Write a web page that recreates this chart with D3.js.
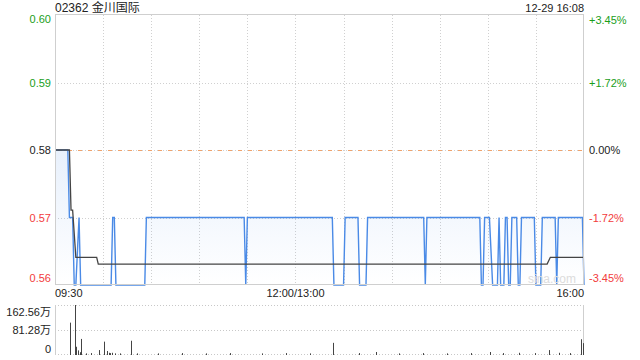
<!DOCTYPE html>
<html>
<head>
<meta charset="utf-8">
<script src="https://cdn.jsdelivr.net/npm/d3@7"></script>
<style>
  body { margin: 0; background: #fff; }
  svg { display: block; font-family: Arial, "Liberation Sans", "Noto Sans CJK SC", sans-serif; }
</style>
</head>
<body>
<script>
// chart data
var title = "02362 金川国际";
var stamp = "12-29 16:08";
var prevClose = 0.58;
var priceTicks = [0.60, 0.59, 0.58, 0.57, 0.56];
var pctLabels = ["+3.45%", "+1.72%", "0.00%", "-1.72%", "-3.45%"];
var gridTimes = ["10:00", "10:30", "11:00", "11:30", "13:00", "13:30", "14:00", "14:30", "15:00", "15:30"];
var timeLabels = ["09:30", "12:00/13:00", "16:00"];
var volTicks = [1625600, 812800, 0];
var volLabels = ["162.56万", "81.28万", "0"];

// price line vertices
var priceTimes = ["09:30", "09:38", "09:39", "09:41", "09:42", "09:43", "09:45", "09:46", "10:05", "10:06",
  "10:07", "10:08", "10:26", "10:27", "11:28", "11:29", "11:30", "13:23", "13:24", "13:30",
  "13:31", "13:39", "13:40", "13:44", "13:45", "14:20", "14:21", "14:22", "14:55", "14:56",
  "14:57", "14:58", "15:01", "15:03", "15:06", "15:07", "15:08", "15:10", "15:11", "15:12",
  "15:13", "15:14", "15:15", "15:18", "15:19", "15:20", "15:21", "15:29", "15:30", "15:33",
  "15:34", "15:42", "15:43", "15:44", "15:59", "16:00"];
var prices = [0.58, 0.58, 0.57, 0.57, 0.56, 0.56, 0.57, 0.56, 0.56, 0.57,
  0.57, 0.56, 0.56, 0.57, 0.57, 0.56, 0.57, 0.57, 0.56, 0.56,
  0.57, 0.57, 0.56, 0.56, 0.57, 0.57, 0.56, 0.57, 0.57, 0.56,
  0.56, 0.57, 0.57, 0.56, 0.56, 0.57, 0.56, 0.56, 0.57, 0.57,
  0.56, 0.56, 0.57, 0.57, 0.56, 0.56, 0.57, 0.57, 0.56, 0.56,
  0.57, 0.57, 0.56, 0.57, 0.57, 0.56];

// average price line vertices
var avgTimes = ["09:30", "09:39", "09:40", "09:41", "09:43", "09:56", "09:57", "15:37", "15:39", "16:00"];
var avgPrices = [0.58, 0.58, 0.5711, 0.5711, 0.5641, 0.5641, 0.5631, 0.5631, 0.5641, 0.5641];

// volume bars
var volTimes = ["09:40", "09:43", "09:44", "09:45", "09:46", "09:47", "09:50", "09:53", "09:58", "10:01",
  "10:03", "10:04", "10:05", "10:06", "10:08", "10:11", "10:18", "10:22", "10:35", "10:50",
  "11:05", "11:20", "11:40", "11:55", "13:10", "13:24", "13:40", "13:51", "14:05", "14:20",
  "14:35", "14:50", "15:02", "15:10", "15:20", "15:30", "15:39", "15:45", "15:52", "15:59", "16:00"];
var volumes = [1040000, 1625600, 240000, 120000, 60000, 500000, 20000, 30000, 130000, 410000,
  100000, 40000, 30000, 40000, 20000, 20000, 440000, 20000, 20000, 30000,
  20000, 30000, 20000, 30000, 20000, 370000, 30000, 66000, 20000, 30000,
  20000, 30000, 66000, 30000, 40000, 30000, 130000, 40000, 30000, 490000, 360000];

var W = 640, H = 360;
var padL = 55, padR = 584, padT = 15, padB = 285;
var volTop = 305, volBottom = 354;

function toMin(t) {
  var p = t.split(":").map(Number);
  var v = p[0] * 60 + p[1];
  return v <= 720 ? v - 570 : v - 780 + 150;
}

var x = d3.scaleLinear().domain([0, 330]).range([padL, padR]);
var y = d3.scaleLinear().domain([0.56, 0.60]).range([padB, padT]);
var vy = d3.scaleLinear().domain([0, 1625600]).range([volBottom, volTop]);

var svg = d3.select("body").append("svg").attr("width", W).attr("height", H);

var defs = svg.append("defs");
var grad = defs.append("linearGradient").attr("id", "fillGrad")
  .attr("gradientUnits", "userSpaceOnUse").attr("x1", 0).attr("y1", padT).attr("x2", 0).attr("y2", padB);
grad.append("stop").attr("offset", 0).attr("stop-color", "#4f8fe8").attr("stop-opacity", 0.26);
grad.append("stop").attr("offset", 1).attr("stop-color", "#4f8fe8").attr("stop-opacity", 0.0);

var green = "#1a9e1a", red = "#f23c3c", dark = "#222";
function priceColor(v) { return v > prevClose + 1e-9 ? green : (v < prevClose - 1e-9 ? red : dark); }

// vertical grid
svg.append("g").selectAll("line").data(gridTimes).enter().append("line")
  .attr("x1", function (d) { return Math.round(x(toMin(d))) + 0.5; })
  .attr("x2", function (d) { return Math.round(x(toMin(d))) + 0.5; })
  .attr("y1", padT).attr("y2", padB)
  .attr("stroke", "#d0d0d0").attr("stroke-dasharray", "1,2");

// horizontal grid
svg.append("g").selectAll("line").data([0.59, 0.58, 0.57]).enter().append("line")
  .attr("x1", padL).attr("x2", padR)
  .attr("y1", function (d) { return Math.round(y(d)) + 0.5; })
  .attr("y2", function (d) { return Math.round(y(d)) + 0.5; })
  .attr("stroke", "#d0d0d0").attr("stroke-dasharray", "1,2");

// area + price line
var pts = priceTimes.map(function (t, i) { return [toMin(t), prices[i]]; });
svg.append("path").datum(pts)
  .attr("fill", "url(#fillGrad)")
  .attr("d", d3.area().x(function (d) { return x(d[0]); }).y0(padB).y1(function (d) { return y(d[1]); }));

// previous close
svg.append("line").attr("x1", padL).attr("x2", padR)
  .attr("y1", Math.round(y(prevClose)) + 0.5).attr("y2", Math.round(y(prevClose)) + 0.5)
  .attr("stroke", "#f0a36c").attr("stroke-dasharray", "4,6").attr("stroke-dashoffset", -3);

svg.append("path").datum(pts)
  .attr("fill", "none").attr("stroke", "#4a8ae6").attr("stroke-width", 1.4)
  .attr("d", d3.line().x(function (d) { return x(d[0]); }).y(function (d) { return y(d[1]); }));

var apts = avgTimes.map(function (t, i) { return [toMin(t), avgPrices[i]]; });
svg.append("path").datum(apts)
  .attr("fill", "none").attr("stroke", "#444").attr("stroke-width", 1.3)
  .attr("d", d3.line().x(function (d) { return x(d[0]); }).y(function (d) { return y(d[1]); }));

// watermark
svg.append("text").attr("x", 552).attr("y", 283).attr("text-anchor", "middle")
  .attr("font-size", 12).attr("fill", "#dcdcdc").text("sina.com");

// frame
svg.append("rect").attr("x", padL + 0.5).attr("y", padT - 0.5).attr("width", padR - padL - 1).attr("height", padB - padT)
  .attr("fill", "none").attr("stroke", "#cfcfcf");

// left price labels
svg.append("g").selectAll("text").data(priceTicks).enter().append("text")
  .attr("x", 51).attr("text-anchor", "end").attr("font-size", 11)
  .attr("y", function (d, i) { var yy = y(d); if (i === 0) yy += 4; if (i === priceTicks.length - 1) yy -= 7; return yy + 4; })
  .attr("fill", priceColor)
  .text(function (d) { return d.toFixed(2); });

// right percent labels
svg.append("g").selectAll("text").data(priceTicks).enter().append("text")
  .attr("x", 589).attr("font-size", 11)
  .attr("y", function (d, i) { var yy = y(d); if (i === 0) yy += 5; if (i === priceTicks.length - 1) yy -= 7; return yy + 4; })
  .attr("fill", priceColor)
  .text(function (d, i) { return pctLabels[i]; });

// title + timestamp
svg.append("text").attr("x", padL).attr("y", 12).attr("font-size", 12).attr("fill", dark).text(title);
svg.append("text").attr("x", padR).attr("y", 11.5).attr("text-anchor", "end").attr("font-size", 11).attr("fill", dark).text(stamp);

// time labels
var tlx = [padL, x(150), padR];
var tla = ["start", "middle", "end"];
svg.append("g").selectAll("text").data(timeLabels).enter().append("text")
  .attr("x", function (d, i) { return tlx[i]; })
  .attr("text-anchor", function (d, i) { return tla[i]; })
  .attr("y", 297).attr("font-size", 11).attr("fill", dark)
  .text(function (d) { return d; });

// volume panel
svg.append("g").selectAll("line").data(volTicks).enter().append("line")
  .attr("x1", padL).attr("x2", padR)
  .attr("y1", function (d) { return Math.round(vy(d)) + 0.5; })
  .attr("y2", function (d) { return Math.round(vy(d)) + 0.5; })
  .attr("stroke", "#c8c8c8").attr("stroke-dasharray", "1,2");
svg.append("line").attr("x1", padL + 0.5).attr("x2", padL + 0.5).attr("y1", volTop).attr("y2", volBottom + 1).attr("stroke", "#cfcfcf");
svg.append("line").attr("x1", padR - 0.5).attr("x2", padR - 0.5).attr("y1", volTop).attr("y2", volBottom + 1).attr("stroke", "#cfcfcf");

svg.append("g").selectAll("line").data(volTimes).enter().append("line")
  .attr("x1", function (d) { return Math.round(x(toMin(d))) - 0.5; })
  .attr("x2", function (d) { return Math.round(x(toMin(d))) - 0.5; })
  .attr("y1", volBottom + 1)
  .attr("y2", function (d, i) { return vy(volumes[i]); })
  .attr("stroke", "#444").attr("stroke-width", 1);

svg.append("g").selectAll("text").data(volLabels).enter().append("text")
  .attr("x", 51).attr("text-anchor", "end").attr("font-size", 11).attr("fill", dark)
  .attr("y", function (d, i) { return [316, 334, 353][i]; })
  .text(function (d) { return d; });
</script>
</body>
</html>
